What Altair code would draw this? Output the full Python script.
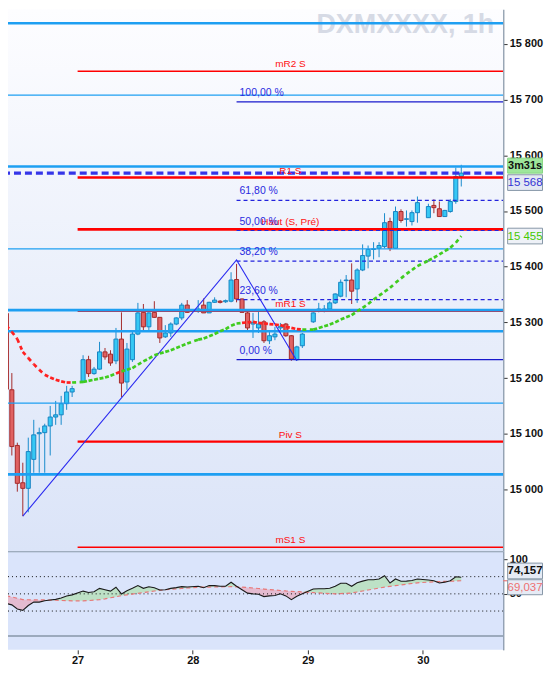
import altair as alt
import pandas as pd

# ---------------- data ----------------
day_labels = ["27", "28", "29", "30"]
day_slots = [0, 21, 42, 63]          # hourly slot where each day starts

slots = (list(range(-13, 0)) + list(range(1, 21)) + list(range(22, 42))
         + list(range(43, 63)) + list(range(64, 71)))

opens = [15316, 15179, 15079, 15012, 15002, 15054, 15100, 15102, 15114, 15130, 15134, 15154, 15175,
         15193, 15233, 15208, 15216, 15247, 15243, 15231, 15270, 15193, 15233, 15279, 15318, 15292, 15318, 15309, 15274, 15281, 15297, 15308, 15331,
         15322, 15331, 15317, 15336, 15338, 15337, 15338, 15377, 15342, 15317, 15297, 15290, 15301, 15267, 15274, 15290, 15297, 15276, 15233, 15258,
         15301, 15320, 15322, 15324, 15335, 15347, 15375, 15376, 15360, 15394, 15419, 15431, 15433, 15436, 15481, 15433, 15499, 15485, 15481, 15497,
         15488, 15510, 15504, 15490, 15499, 15517, 15562]
highs = [15322, 15209, 15084, 15048, 15093, 15125, 15111, 15118, 15150, 15159, 15168, 15186, 15186,
         15241, 15240, 15220, 15265, 15254, 15250, 15290, 15318, 15263, 15286, 15335, 15333, 15318, 15338, 15309, 15295, 15300, 15309, 15335, 15340,
         15340, 15343, 15337, 15345, 15340, 15341, 15390, 15405, 15343, 15322, 15317, 15322, 15304, 15286, 15292, 15299, 15299, 15277, 15258, 15281,
         15318, 15335, 15331, 15338, 15352, 15377, 15385, 15406, 15397, 15440, 15438, 15444, 15444, 15496, 15488, 15508, 15503, 15501, 15501, 15526,
         15513, 15521, 15517, 15502, 15521, 15578, 15583]
lows = [15175, 15061, 14996, 14952, 14959, 15030, 15030, 15030, 15061, 15116, 15116, 15143, 15166,
        15191, 15202, 15206, 15215, 15233, 15222, 15225, 15166, 15179, 15229, 15277, 15286, 15286, 15308, 15263, 15272, 15274, 15295, 15304, 15317,
        15317, 15317, 15317, 15335, 15334, 15335, 15336, 15336, 15317, 15283, 15272, 15281, 15263, 15261, 15268, 15281, 15274, 15231, 15231, 15254,
        15299, 15318, 15318, 15322, 15333, 15345, 15345, 15333, 15335, 15392, 15397, 15413, 15417, 15433, 15428, 15433, 15479, 15472, 15474, 15479,
        15488, 15496, 15490, 15490, 15497, 15513, 15544]
closes = [15180, 15077, 15011, 15002, 15068, 15098, 15102, 15114, 15130, 15134, 15154, 15175, 15181,
          15233, 15208, 15216, 15247, 15238, 15227, 15270, 15191, 15252, 15279, 15317, 15292, 15317, 15309, 15272, 15281, 15297, 15308, 15331, 15318,
          15324, 15317, 15336, 15340, 15336, 15339, 15376, 15342, 15318, 15290, 15300, 15297, 15267, 15276, 15279, 15293, 15276, 15234, 15256, 15279,
          15317, 15324, 15324, 15335, 15351, 15372, 15376, 15356, 15394, 15420, 15431, 15432, 15438, 15479, 15433, 15499, 15483, 15486, 15497, 15515,
          15508, 15506, 15490, 15501, 15517, 15562, 15568]
ma = [15294, 15283, 15270, 15247, 15236, 15225, 15215, 15206, 15201, 15197, 15194, 15192, 15192,
      15193, 15195, 15197, 15199, 15201, 15204, 15208, 15212, 15215, 15218, 15224, 15230, 15235, 15241, 15244, 15247, 15250, 15254, 15258, 15262,
      15269, 15271, 15275, 15279, 15284, 15288, 15294, 15298, 15299, 15300, 15301, 15299, 15298, 15297, 15296, 15295, 15292, 15290, 15288, 15287,
      15287, 15290, 15293, 15296, 15300, 15305, 15309, 15313, 15320, 15326, 15333, 15341, 15348, 15355, 15362, 15371, 15379, 15387, 15394, 15401,
      15411, 15416, 15422, 15428, 15434, 15443, 15455]
rsi = [36, 34, 28, 26, 33, 38, 38, 40, 41, 42, 44, 47, 48.5,
       54, 52, 53, 58, 56, 54, 59.6, 49.9, 54.6, 58, 62, 58, 60.4, 59, 55.7, 56, 58, 59, 60.5, 60,
       61, 59, 62, 62, 61, 61, 66.8, 61, 56, 51, 50, 49.5, 46, 47, 47.5, 50, 47, 41.6, 46.5, 50,
       57, 57.5, 57.5, 58.1, 61, 65.4, 65.4, 61, 66, 68.5, 70.6, 70.5, 71.6, 76.4, 65.8, 71.6, 68.3, 68.5, 69.5, 71.6,
       70.1, 69.1, 65.8, 67, 69.1, 74.9, 74.157]
signal = [47, 45.5, 43.5, 41.6, 41.4, 41.3, 41.2, 41.2, 41, 40.7, 40.4, 40.1, 39.9,
          39.8, 40.2, 40.8, 41.5, 42.8, 44.3, 45.8, 47.4, 48.6, 49.7, 50.8, 51.9, 53, 54.1, 55.2, 55.9, 56.6, 57.3, 57.9, 58.5,
          59.6, 59.8, 59.9, 60, 60.2, 60.3, 60.4, 60.2, 59.7, 59.2, 58.5, 57.8, 57, 56.3, 55.6, 54.9, 54.2, 53.7, 53.2, 52.7,
          51.8, 51.4, 50.9, 50.4, 50, 50.3, 50.8, 51.3, 52.7, 54.1, 55.6, 57, 58.4, 59.8, 60.9, 61.9, 62.9, 64, 65, 66,
          67.1, 67.5, 67.8, 68.1, 68.4, 68.7, 69.037]

zz_slots = [-10, 29, 40]
zz_prices = [14952, 15412, 15231]

blue_levels = [15837, 15708, 15580, 15432, 15322, 15284, 15155, 15027]
blue_widths = [2.6, 1.2, 2.6, 1.2, 2.6, 2.6, 1.2, 2.6]

pivot_names = ["mR2 S", "R1 S", "Haut (S, Pré)", "mR1 S", "Piv S", "mS1 S"]
pivot_levels = [15751, 15560, 15467, 15320, 15086, 14896]
pivot_widths = [1.5, 2.6, 2.6, 1.5, 2.2, 1.5]

fib_names = ["100,00 %", "61,80 %", "50,00 %", "38,20 %", "23,60 %", "0,00 %"]
fib_levels = [15696, 15519, 15465, 15410, 15341, 15233]
fib_solid = [True, False, False, False, False, True]

rsi_levels = [75, 50, 25]
countdown = "3m31s"
title_text = "DXMXXXX, 1h"

# ---------------- layout ----------------
W, H1, H2 = 497, 544, 99
x_dom = [-12.7, 77.64]
y_dom = [14889.1, 15862.3]
r_dom = [-31.4, 112.0]
FONT = "Liberation Sans"
BX = W + 22

xs = alt.Scale(domain=x_dom, nice=False, zero=False)
ys = alt.Scale(domain=y_dom, nice=False, zero=False)
rs = alt.Scale(domain=r_dom, nice=False, zero=False)

price_axis = alt.Axis(orient="right", values=list(range(15000, 15801, 100)),
                      labelExpr="replace(format(datum.value, ','), ',', ' ')",
                      title=None, grid=False, tickSize=4, labelPadding=2,
                      domainColor="#8797a8", domainWidth=1.5, tickColor="#333333")


def X(f):
    return alt.X(f, type="quantitative", scale=xs, axis=None)


def Y(f):
    return alt.Y(f, type="quantitative", scale=ys, axis=price_axis)


def sp(v):
    return f"{v:,.0f}".replace(",", " ")


one = pd.DataFrame({"k": [0]})

bg = alt.Chart(one).mark_rect(fill=alt.Gradient(
    gradient="linear",
    stops=[alt.GradientStop(offset=0, color="#fdfdff"),
           alt.GradientStop(offset=0.5, color="#ebf0fb"),
           alt.GradientStop(offset=1, color="#dbe4f8")],
    x1=0, x2=0, y1=0, y2=1)).encode(
    x=alt.value(0), x2=alt.value("width"), y=alt.value(0), y2=alt.value("height"))

title = alt.Chart(one).mark_text(text=title_text, font=FONT, fontSize=27, fontWeight="bold",
                                 color="#d6dae5", align="right", baseline="alphabetic",
                                 clip=True).encode(
    x=alt.value(W - 9), y=alt.value(24))

cdf = pd.DataFrame(dict(slot=slots, open=opens, high=highs, low=lows, close=closes, ma=ma))
cdf["xa"] = cdf["slot"] - 0.37
cdf["xb"] = cdf["slot"] + 0.37
up = cdf[cdf["close"] >= cdf["open"]]
dn = cdf[cdf["close"] < cdf["open"]]


def wicks(d, color):
    return alt.Chart(d).mark_rule(color=color, strokeWidth=1, clip=True).encode(
        x=X("slot"), y=Y("low"), y2="high")


def bodies(d, fill, stroke):
    return alt.Chart(d).mark_rect(fill=fill, stroke=stroke, strokeWidth=1, clip=True).encode(
        x=X("xa"), x2="xb", y=Y("open"), y2="close")


piv = pd.DataFrame({"name": pivot_names, "p": pivot_levels, "w": pivot_widths})
piv["x0"] = day_slots[0]
piv["x1"] = x_dom[1]
piv["mid"] = (piv["x0"] + piv["x1"]) / 2

red_lines = alt.Chart(piv).mark_rule(color="#ff0000", clip=True).encode(
    x=X("x0"), x2="x1", y=Y("p"), strokeWidth=alt.StrokeWidth("w:Q", scale=None))
red_text = alt.Chart(piv).mark_text(color="#ff1010", font=FONT, fontSize=10, align="center",
                                    baseline="alphabetic", dy=-4, clip=True).encode(
    x=X("mid"), y=Y("p"), text="name:N")

blu = pd.DataFrame({"p": blue_levels, "w": blue_widths})
blue_lines = alt.Chart(blu).mark_rule(color="#1e9ff2", clip=True).encode(
    y=Y("p"), strokeWidth=alt.StrokeWidth("w:Q", scale=None))

fib = pd.DataFrame({"name": fib_names, "p": fib_levels, "solid": fib_solid})
fib["x0"] = zz_slots[1]
fib["x1"] = x_dom[1]
fib_s = alt.Chart(fib[fib["solid"]]).mark_rule(color="#1818cc", strokeWidth=1.2, clip=True).encode(
    x=X("x0"), x2="x1", y=Y("p"))
fib_d = alt.Chart(fib[~fib["solid"]]).mark_rule(color="#2222dd", strokeWidth=1.2,
                                                strokeDash=[4, 3], clip=True).encode(
    x=X("x0"), x2="x1", y=Y("p"))
fib_t = alt.Chart(fib).mark_text(color="#2a2ae0", font=FONT, fontSize=10.5, align="left",
                                 baseline="alphabetic", dx=3, dy=-6, clip=True).encode(
    x=X("x0"), y=Y("p"), text="name:N")

zz = pd.DataFrame({"s": zz_slots, "p": zz_prices, "o": list(range(len(zz_slots)))})
zig = alt.Chart(zz).mark_line(color="#2b2bf0", strokeWidth=1.1, clip=True).encode(
    x=X("s"), y=Y("p"), order="o:Q")

seg = pd.DataFrame({"x": slots[:-1], "x2": slots[1:], "y": ma[:-1], "y2": ma[1:],
                    "above": [c >= m for c, m in zip(closes[1:], ma[1:])]})


def ma_layer(d, color):
    return alt.Chart(d).mark_rule(color=color, strokeWidth=2.7, strokeDash=[4, 3.5],
                                  strokeCap="butt", clip=True).encode(
        x=X("x"), x2="x2", y=Y("y"), y2="y2")


ma_g = ma_layer(seg[seg["above"]], "#3fcc1f")
ma_r = ma_layer(seg[~seg["above"]], "#ff2020")

cur = pd.DataFrame({"p": [closes[-1]]})
cur_line = alt.Chart(cur).mark_rule(color="#3535e8", strokeWidth=3.2, strokeDash=[7, 4],
                                    clip=True).encode(y=Y("p"))


def box(value, text, dy, fill, stroke, tcolor, weight, size_t, yenc, h=0.45):
    d = pd.DataFrame({"v": [value], "t": [text]})
    path = f"M-1,-{h}H1V{h}H-1Z"
    b = alt.Chart(d).mark_point(shape=path, size=35 * 35, filled=True, fill=fill, stroke=stroke,
                                strokeWidth=1, opacity=1, yOffset=dy).encode(
        x=alt.value(BX), y=yenc("v"))
    t = alt.Chart(d).mark_text(font=FONT, fontSize=size_t, fontWeight=weight, color=tcolor,
                               align="center", baseline="middle", yOffset=dy + 0.5).encode(
        x=alt.value(BX), y=yenc("v"), text="t:N")
    return [b, t]


pboxes = (box(closes[-1], countdown, -7.5, "#9ee69b", "#88d585", "#111111", "bold", 11, Y, 0.43)
          + box(closes[-1], sp(closes[-1]), 9.5, "#e3e8f3", "#8898a8", "#3434d4", "normal", 11.5, Y)
          + box(ma[-1], sp(ma[-1]), 0, "#eef1f7", "#8898a8", "#44c800", "normal", 11.5, Y))

price = alt.layer(
    bg, title,
    wicks(up, "#1a8ccc"), wicks(dn, "#a52c2c"),
    bodies(up, "#36c8f4", "#1884c2"), bodies(dn, "#e06262", "#a52a2a"),
    red_lines, blue_lines, fib_s, fib_d, zig, ma_g, ma_r, cur_line,
    red_text, fib_t, *pboxes
).properties(width=W, height=H1)

# ---------------- oscillator panel ----------------
label_expr = " : ".join(f"datum.value == {s} ? '{d}'" for s, d in zip(day_slots, day_labels)) + " : ''"
x_axis = alt.Axis(values=day_slots, labelExpr=label_expr, title=None, grid=False, domain=False,
                  tickSize=4, labelPadding=1, tickColor="#333333", labelFlush=False)
r_axis = alt.Axis(orient="right", values=[100, 50], title=None, grid=False, tickSize=4,
                  labelPadding=2, domainColor="#8797a8", domainWidth=1.5, tickColor="#333333")


def XR(f):
    return alt.X(f, type="quantitative", scale=xs, axis=x_axis)


def YR(f):
    return alt.Y(f, type="quantitative", scale=rs, axis=r_axis)


rdf = pd.DataFrame({"slot": slots, "rsi": rsi, "sig": signal})
rdf["hi"] = rdf[["rsi", "sig"]].max(axis=1)
rdf["lo"] = rdf[["rsi", "sig"]].min(axis=1)

rbg = alt.Chart(one).mark_rect(fill="#dae4fb").encode(
    x=alt.value(0), x2=alt.value("width"), y=alt.value(0), y2=alt.value("height"))
g_area = alt.Chart(rdf).mark_area(color="#bde1c6", opacity=1, clip=True).encode(
    x=XR("slot"), y=YR("sig"), y2="hi")
p_area = alt.Chart(rdf).mark_area(color="#e4bbd0", opacity=1, clip=True).encode(
    x=XR("slot"), y=YR("lo"), y2="sig")
lv = pd.DataFrame({"v": rsi_levels})
dots = alt.Chart(lv).mark_rule(color="#111111", strokeWidth=1, strokeDash=[1, 3], clip=True).encode(y=YR("v"))
sep = pd.DataFrame({"v": [r_dom[1] - 0.6, -11.2]})
seps = alt.Chart(sep).mark_rule(color="#8797a8", strokeWidth=1.5, clip=True).encode(y=YR("v"))
sig_line = alt.Chart(rdf).mark_line(color="#e87878", strokeWidth=1.2, strokeDash=[4, 3], clip=True).encode(
    x=XR("slot"), y=YR("sig"))
rsi_line = alt.Chart(rdf).mark_line(color="#1a1a1a", strokeWidth=1.1, clip=True).encode(
    x=XR("slot"), y=YR("rsi"))
tick_df = pd.DataFrame({"v": [signal[-1]]})
sig_tick = alt.Chart(tick_df).mark_rule(color="#e87878", strokeWidth=1.2).encode(
    x=alt.value(W), x2=alt.value(W + 6), y=YR("v"))


def cm(v):
    return f"{v:.3f}".replace(".", ",")


rboxes = (box(rsi[-1], cm(rsi[-1]), -6.3, "#e6ebf5", "#8898a8", "#111111", "bold", 11.5, YR)
          + box(signal[-1], cm(signal[-1]), 6.5, "#e6ebf5", "#8898a8", "#ee7070", "normal", 11.5, YR, 0.43))

osc = alt.layer(rbg, g_area, p_area, dots, seps, sig_line, rsi_line, sig_tick, *rboxes).properties(
    width=W, height=H2)

chart = alt.vconcat(price, osc, spacing=0).resolve_scale(y="independent").properties(
    padding={"left": 0, "top": 0, "right": 0, "bottom": 0}
).configure_view(stroke=None).configure_axis(
    labelFont=FONT, labelFontSize=11, labelFontWeight="bold", labelColor="#111111")

chart.save("out.html", embed_options={"renderer": "svg", "actions": False})
